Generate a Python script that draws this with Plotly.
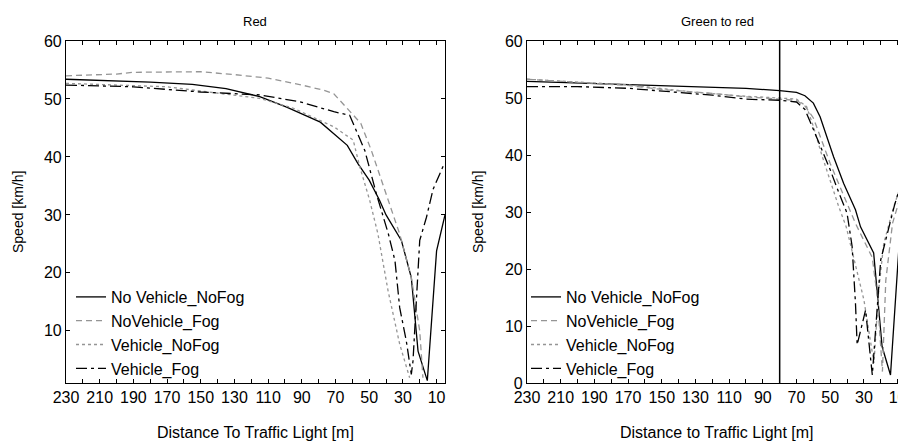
import plotly.graph_objects as go

# page is 906x442; the html body has an 8px margin, so the figure is 898x434
PAGE_OFF = 8
W, H = 906 - PAGE_OFF, 442 - PAGE_OFF

# ---------------- data: left panel "Red" ----------------
red_nvnf_d = [230, 210, 180, 155, 135, 115, 99, 79, 69, 63, 56.6, 50, 43.8, 40, 30.9, 25, 21, 15.5, 10, 5]
red_nvnf_v = [53.4, 53.2, 52.9, 52.5, 51.8, 50.4, 48.6, 46.0, 43.4, 42.0, 38.8, 36.0, 32.5, 30.0, 25.6, 19.2, 6.5, 1.4, 23.8, 30.0]

red_nvf_d = [230, 200, 190, 150, 130, 110, 90, 77, 71, 63, 55, 48.7, 39.8, 31.9, 25, 20, 18.1]
red_nvf_v = [54.0, 54.3, 54.6, 54.7, 54.2, 53.6, 52.4, 51.5, 50.9, 48.4, 45.8, 41.1, 33.6, 26.7, 19.2, 10.0, 1.9]

red_vnf_d = [230, 170, 115, 95, 71, 59.5, 55.6, 49.7, 44.8, 38.8, 31.9, 26]
red_vnf_v = [52.7, 52.1, 50.1, 48.4, 45.2, 42.9, 38.3, 32.5, 26.7, 16.9, 7.7, 1.9]

red_vf_d = [230, 190, 150, 131, 115, 91, 71, 61.6, 56, 52.6, 45.7, 38.6, 34.7, 31.9, 28, 25, 24, 20, 16, 12.1, 5.5]
red_vf_v = [52.4, 52.1, 51.2, 50.9, 50.7, 49.5, 47.8, 47.2, 43.4, 41.1, 33.6, 26.7, 22.1, 14.0, 8.3, 2.5, 4.8, 25.6, 29.6, 34.4, 38.8]

# ---------------- data: right panel "Green to red" ----------------
g2r_nvnf_d = [230, 160, 120, 100, 80, 70, 65, 60, 56, 52, 48, 42, 35, 32, 24.2, 22, 19.2, 14.2, 9.3, 5]
g2r_nvnf_v = [52.9, 52.3, 51.9, 51.7, 51.3, 51.0, 50.4, 49.1, 46.7, 43.0, 39.7, 35.0, 30.4, 27.4, 22.8, 15.7, 6.4, 1.4, 23.3, 30.0]

g2r_nvf_d = [230, 200, 170, 150, 120, 100, 80, 70, 65, 60, 55, 50, 45, 40, 35, 30, 25, 22, 20, 19, 17, 13, 9, 5]
g2r_nvf_v = [53.3, 52.8, 52.2, 51.5, 50.8, 50.2, 49.8, 49.6, 48.6, 46.5, 42.5, 38.5, 35.0, 31.5, 28.0, 25.0, 22.0, 15.0, 6.0, 2.0, 18.0, 28.0, 32.0, 36.0]

g2r_vnf_d = [230, 200, 170, 130, 100, 80, 70, 64, 60, 55, 50, 45, 40.5, 36, 30, 27, 24, 21.2, 18.2, 12.3, 5]
g2r_vnf_v = [53.3, 52.8, 52.3, 51.0, 50.3, 50.0, 49.8, 48.5, 45.0, 40.0, 35.5, 31.0, 27.4, 22.0, 14.6, 9.0, 3.5, 16.3, 24.5, 30.9, 37.4]

g2r_vf_d = [230, 200, 170, 150, 120, 100, 80, 70, 65, 60, 55, 50, 45, 40, 37, 35, 34, 29, 25, 20, 16, 12, 5]
g2r_vf_v = [52.0, 52.0, 51.7, 51.2, 50.5, 49.8, 49.6, 49.3, 48.0, 44.5, 41.0, 37.4, 33.5, 29.8, 24.0, 14.0, 6.7, 12.8, 1.4, 21.6, 26.3, 31.0, 38.0]

names = ["No Vehicle_NoFog", "NoVehicle_Fog", "Vehicle_NoFog", "Vehicle_Fog"]
x_tick_vals = list(range(230, 0, -20))
x_minor_vals = list(range(220, 0, -20))
red_y_ticks = [10, 20, 30, 40, 50, 60]
g2r_y_ticks = [0, 10, 20, 30, 40, 50, 60]

styles = [
    dict(color="black", width=1.3, dash="solid"),
    dict(color="#959595", width=1.3, dash="6px,4px"),
    dict(color="#959595", width=1.3, dash="dot"),
    dict(color="black", width=1.3, dash="11px,4px,3px,4px"),
]

fig = go.Figure()
left_series = [(red_nvnf_d, red_nvnf_v), (red_nvf_d, red_nvf_v), (red_vnf_d, red_vnf_v), (red_vf_d, red_vf_v)]
right_series = [(g2r_nvnf_d, g2r_nvnf_v), (g2r_nvf_d, g2r_nvf_v), (g2r_vnf_d, g2r_vnf_v), (g2r_vf_d, g2r_vf_v)]

for (d, v), nm, st in zip(left_series, names, styles):
    fig.add_trace(go.Scatter(x=d, y=v, mode="lines", name=nm, line=st,
                             xaxis="x", yaxis="y", legend="legend"))
for (d, v), nm, st in zip(right_series, names, styles):
    fig.add_trace(go.Scatter(x=d, y=v, mode="lines", name=nm, line=st,
                             xaxis="x2", yaxis="y2", legend="legend2"))

def px_x(p):
    return (p - PAGE_OFF) / W

def px_y(p):
    return 1 - (p - PAGE_OFF) / H

FONT = "Liberation Sans, Arial, sans-serif"
FS = 16
ydom = [px_y(383), px_y(41)]
xdom1 = [px_x(66), px_x(445)]
xdom2 = [px_x(527), 1.0]

common_axis = dict(showline=True, linecolor="black", linewidth=1.2, mirror="ticks",
                   ticks="inside", ticklen=4, tickwidth=1, tickcolor="black",
                   showgrid=False, zeroline=False, automargin=False,
                   ticklabeloverflow="allow",
                   tickfont=dict(family=FONT, size=FS, color="black"))

xminor = dict(ticks="inside", ticklen=4, tickwidth=1, tickcolor="black",
              tickmode="array", tickvals=x_minor_vals, showgrid=False)

fig.update_layout(
    template="none",
    width=W, height=H,
    margin=dict(l=0, r=0, t=0, b=0, autoexpand=False),
    paper_bgcolor="white", plot_bgcolor="white",
    font=dict(family=FONT, size=FS, color="black"),
    xaxis=dict(domain=xdom1, range=[230, 5], tickmode="array", tickvals=x_tick_vals,
               anchor="y", minor=xminor, **common_axis),
    yaxis=dict(domain=ydom, range=[1, 60], tickmode="array", tickvals=red_y_ticks,
               anchor="x", **common_axis),
    xaxis2=dict(domain=xdom2, range=[230, 5], tickmode="array", tickvals=x_tick_vals,
                anchor="y2", minor=xminor, **common_axis),
    yaxis2=dict(domain=ydom, range=[0, 60], tickmode="array", tickvals=g2r_y_ticks,
                anchor="x2", **common_axis),
    legend=dict(x=px_x(71), y=px_y(386), xanchor="left", yanchor="bottom",
                bgcolor="rgba(0,0,0,0)", borderwidth=0, tracegroupgap=0,
                font=dict(family=FONT, size=FS, color="black")),
    legend2=dict(x=px_x(526), y=px_y(386), xanchor="left", yanchor="bottom",
                 bgcolor="rgba(0,0,0,0)", borderwidth=0, tracegroupgap=0,
                 font=dict(family=FONT, size=FS, color="black")),
    shapes=[dict(type="line", xref="x2", yref="y2 domain", x0=80, x1=80, y0=0, y1=1,
                 line=dict(color="black", width=1.5))],
)

ann_font = dict(family=FONT, size=FS, color="black")
annotations = [
    dict(text="Red", x=px_x(255), y=px_y(22), font=dict(family=FONT, size=13, color="black")),
    dict(text="Green to red", x=px_x(717), y=px_y(22), font=dict(family=FONT, size=13, color="black")),
    dict(text="Distance To Traffic Light [m]", x=px_x(255), y=px_y(432), font=ann_font),
    dict(text="Distance to Traffic Light [m]", x=px_x(717), y=px_y(432), font=ann_font),
    dict(text="Speed [km/h]", x=px_x(18), y=px_y(212), textangle=-90, font=dict(family=FONT, size=14, color="black")),
    dict(text="Speed [km/h]", x=px_x(478), y=px_y(212), textangle=-90, font=dict(family=FONT, size=14, color="black")),
]
for a in annotations:
    fig.add_annotation(xref="paper", yref="paper", xanchor="center", yanchor="middle",
                       showarrow=False, **a)

fig.write_html("out.html")
